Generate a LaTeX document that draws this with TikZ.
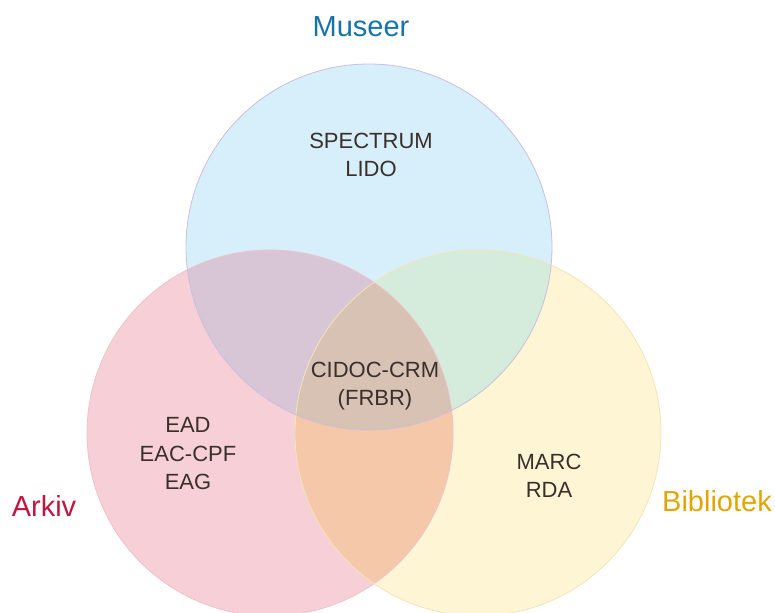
\documentclass[tikz,border=0pt]{standalone}
\usepackage{fontspec}
\setmainfont{Liberation Sans}
\usepackage{xcolor}
\usepackage{tikz}

\definecolor{musfill}{HTML}{D6EFFA}
\definecolor{arkfill}{HTML}{F6D0D6}
\definecolor{bibfill}{HTML}{FDF5D4}
\definecolor{musark}{HTML}{D8C6D6}
\definecolor{musbib}{HTML}{D5ECDC}
\definecolor{arkbib}{HTML}{F5C8AA}
\definecolor{allthree}{HTML}{D8C2B4}
\definecolor{musline}{HTML}{CBBFDA}
\definecolor{arkline}{HTML}{EDC3CB}
\definecolor{bibline}{HTML}{F3E4B8}
\definecolor{txtdark}{HTML}{3A2F2B}
\definecolor{musblue}{HTML}{1673A8}
\definecolor{arkred}{HTML}{C0163F}
\definecolor{bibgold}{HTML}{E3A600}

\begin{document}
\begin{tikzpicture}[x=1pt, y=-1pt,
    every node/.style={align=center, text=txtdark, font=\fontsize{22}{28.5}\selectfont},
    title/.style={font=\fontsize{29}{34}\selectfont}]
    \useasboundingbox (0,0) rectangle (775,612);

    \coordinate (M) at (369,247);
    \coordinate (A) at (270,433);
    \coordinate (B) at (478,433);

    % the three sets
    \fill[arkfill] (A) circle (183pt);
    \fill[bibfill] (B) circle (183pt);
    \fill[musfill] (M) circle (183pt);

    % overlaps
    \begin{scope}
        \clip (M) circle (183pt);
        \fill[musark] (A) circle (183pt);
        \fill[musbib] (B) circle (183pt);
    \end{scope}
    \begin{scope}
        \clip (A) circle (183pt);
        \fill[arkbib] (B) circle (183pt);
        \clip (B) circle (183pt);
        \fill[allthree] (M) circle (183pt);
    \end{scope}

    \draw[arkline, line width=0.8pt] (A) circle (183pt);
    \draw[bibline, line width=0.8pt] (B) circle (183pt);
    \draw[musline, line width=0.8pt] (M) circle (183pt);

    \node (museer) at (361,27) [title, text=musblue] {Museer};
    \node (arkiv) at (44,506) [title, text=arkred] {Arkiv};
    \node (bibliotek) at (717,501) [title, text=bibgold] {Bibliotek};

    \node (musstd) at (371,155) {SPECTRUM\\LIDO};
    \node (felles) at (375,386) {CIDOC-CRM\\(FRBR)};
    \node (arkstd) at (188,454) {EAD\\EAC-CPF\\EAG};
    \node (bibstd) at (549,476) {MARC\\RDA};
\end{tikzpicture}
\end{document}
